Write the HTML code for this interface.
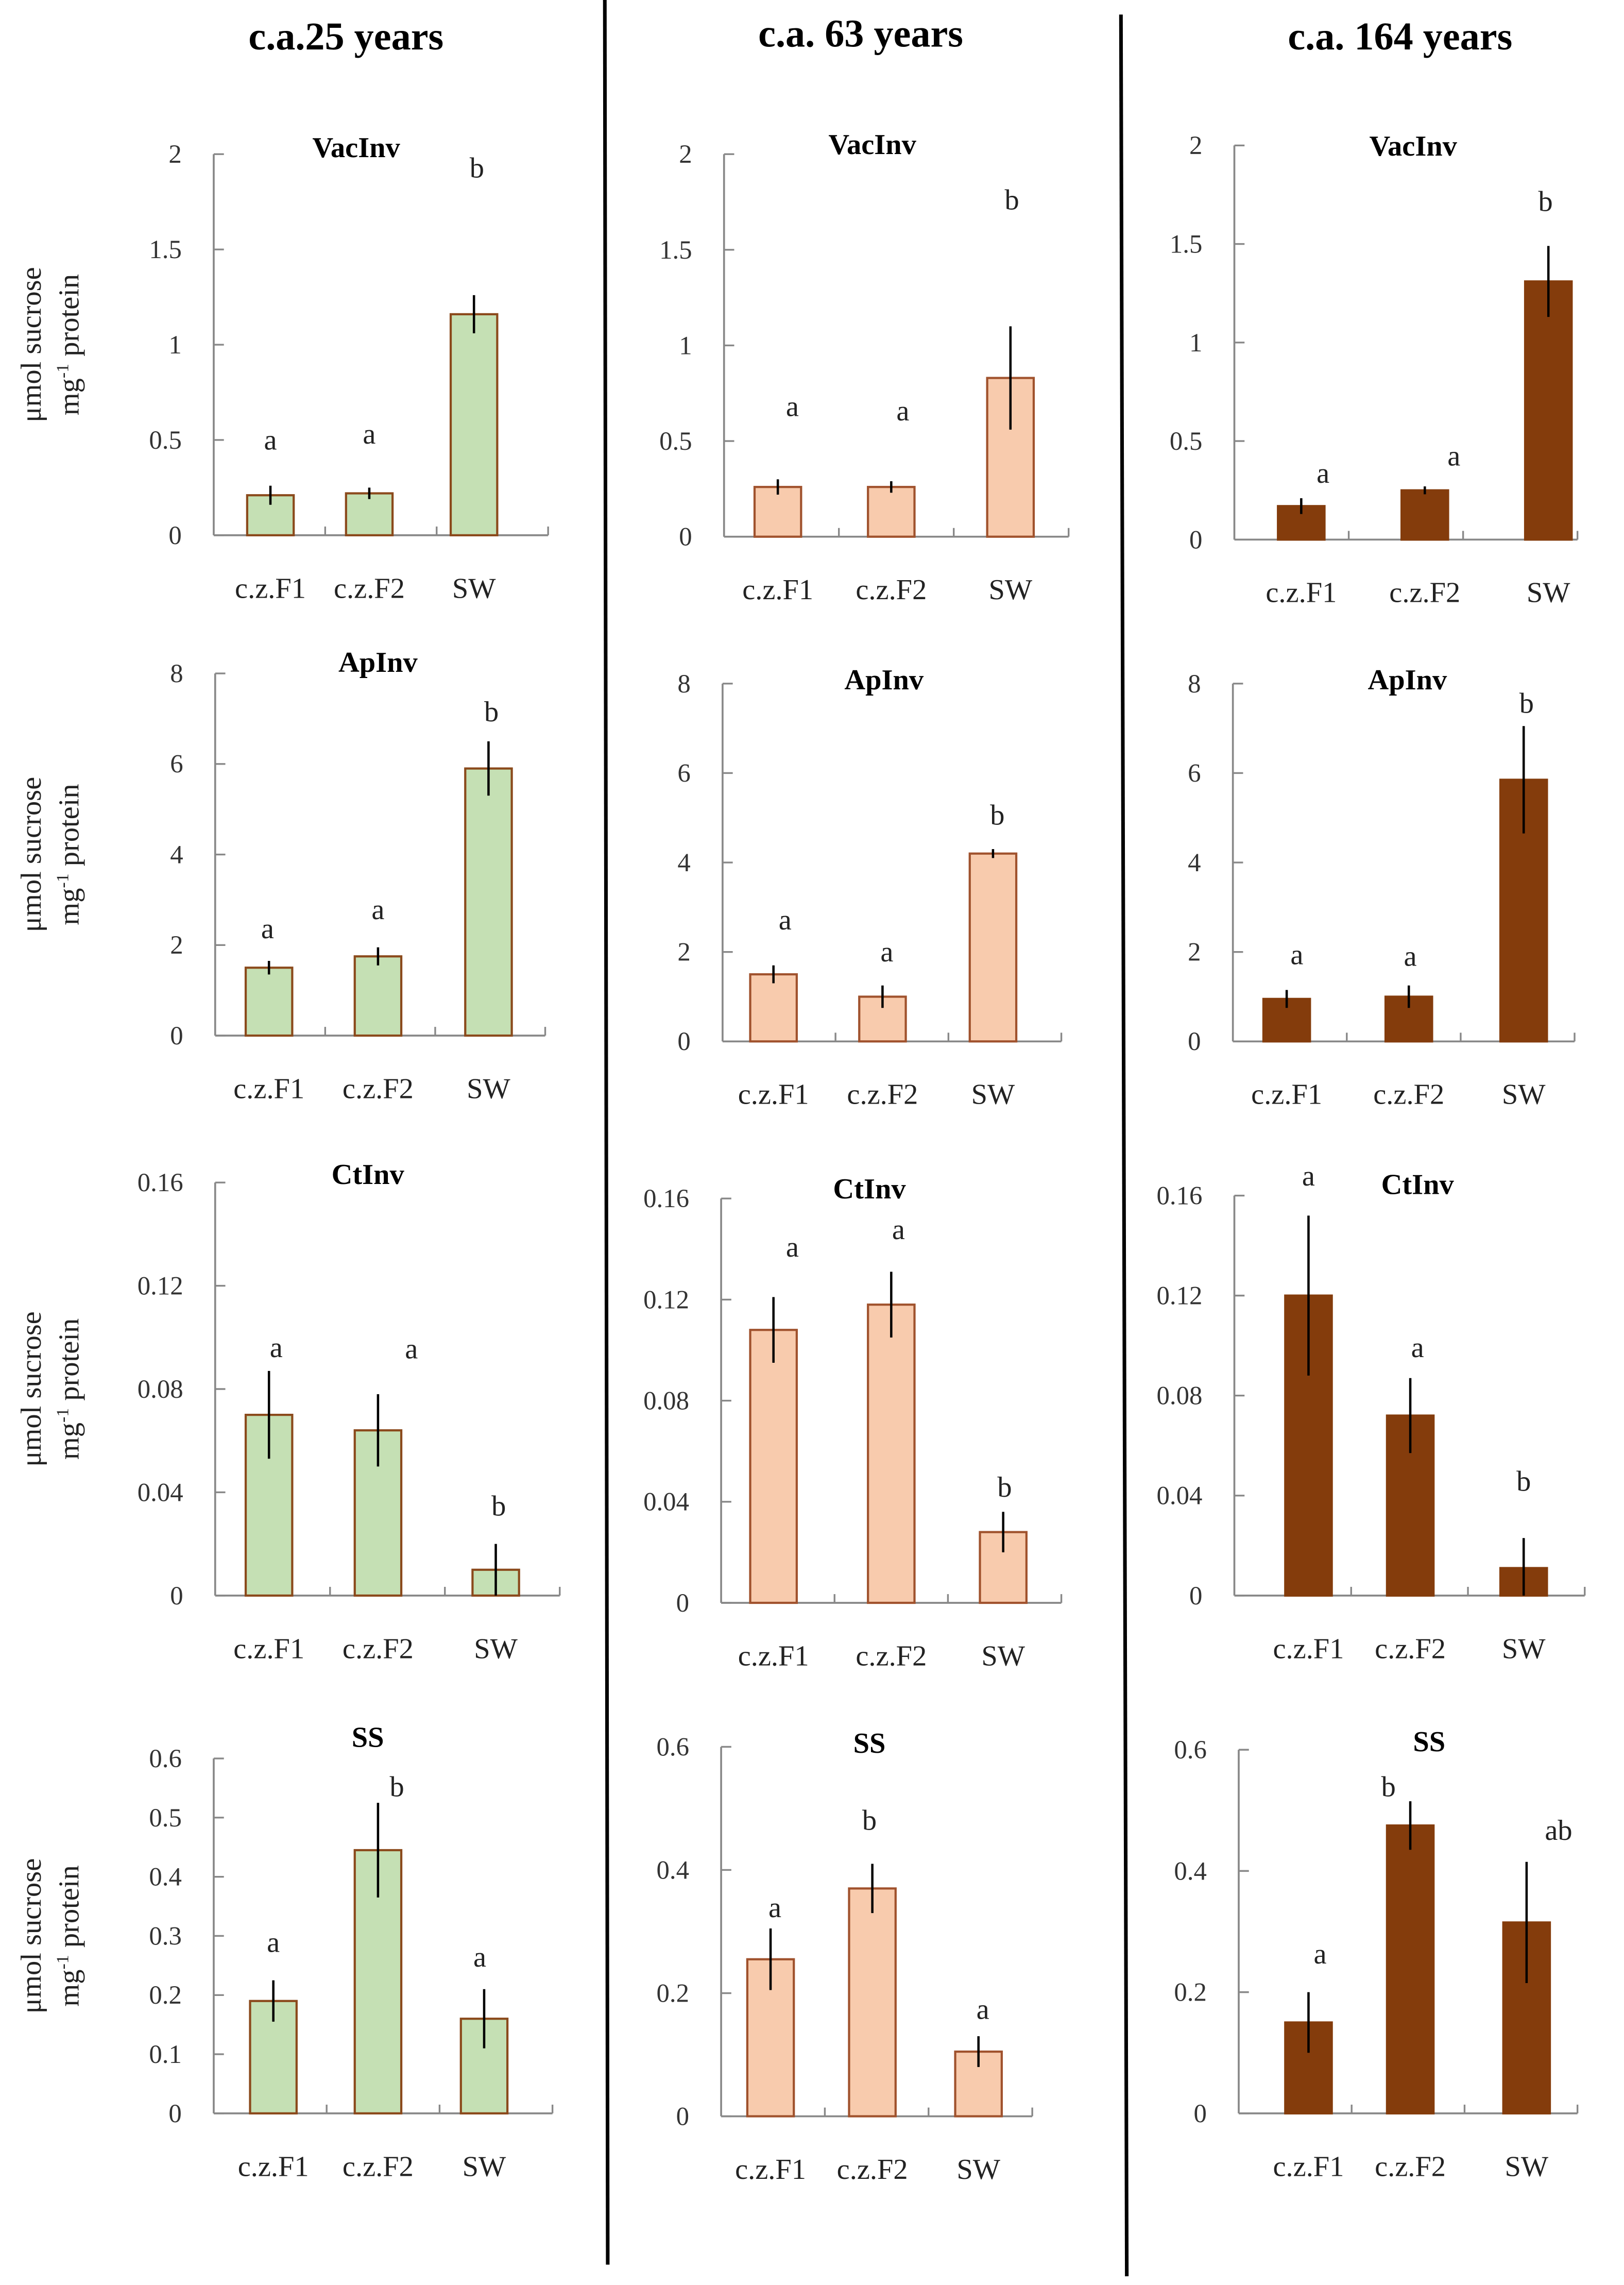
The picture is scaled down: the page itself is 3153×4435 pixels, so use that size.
<!DOCTYPE html>
<html><head><meta charset="utf-8"><style>
html,body{margin:0;padding:0;background:#fff;}
svg{display:block;}
text{font-family:"Liberation Serif",serif;}
</style></head>
<body>
<svg id="fig" width="3153" height="4435" viewBox="0 0 1117 1571" preserveAspectRatio="none" xmlns="http://www.w3.org/2000/svg">
<text x="238" y="34" font-size="27" font-weight="bold" text-anchor="middle">c.a.25 years</text>
<text x="592" y="32" font-size="27" font-weight="bold" text-anchor="middle">c.a. 63 years</text>
<text x="963" y="34" font-size="27" font-weight="bold" text-anchor="middle">c.a. 164 years</text>
<line x1="416" y1="0" x2="418" y2="1557" stroke="#000" stroke-width="2.5"/>
<line x1="771" y1="10" x2="775" y2="1565" stroke="#000" stroke-width="2.5"/>
<g id="charts"></g>
</svg>
<script>
// categories and enzyme titles
const categories = ["c.z.F1", "c.z.F2", "SW"];
const enzymes = ["VacInv", "ApInv", "CtInv", "SS"];
// axis maxima per enzyme row
const axisMax = [2, 8, 0.16, 0.6];
// values [row][category]
const values25 = [[0.21, 0.22, 1.16], [1.5, 1.75, 5.9], [0.07, 0.064, 0.01], [0.19, 0.445, 0.16]];
const errors25 = [[0.05, 0.03, 0.1], [0.15, 0.2, 0.6], [0.017, 0.014, 0.01], [0.035, 0.08, 0.05]];
const values63 = [[0.26, 0.26, 0.83], [1.5, 1.0, 4.2], [0.108, 0.118, 0.028], [0.255, 0.37, 0.105]];
const errors63 = [[0.04, 0.03, 0.27], [0.2, 0.25, 0.1], [0.013, 0.013, 0.008], [0.05, 0.04, 0.025]];
const values164 = [[0.17, 0.25, 1.31], [0.95, 1.0, 5.85], [0.12, 0.072, 0.011], [0.15, 0.475, 0.315]];
const errors164 = [[0.04, 0.02, 0.18], [0.2, 0.25, 1.2], [0.032, 0.015, 0.012], [0.05, 0.04, 0.1]];
const letters25 = [["a", "a", "b"], ["a", "a", "b"], ["a", "a", "b"], ["a", "b", "a"]];
const letters63 = [["a", "a", "b"], ["a", "a", "b"], ["a", "a", "b"], ["a", "b", "a"]];
const letters164 = [["a", "a", "b"], ["a", "a", "b"], ["a", "a", "b"], ["a", "b", "ab"]];
const tickLabels = [["0", "0.5", "1", "1.5", "2"], ["0", "2", "4", "6", "8"], ["0", "0.04", "0.08", "0.12", "0.16"], ["0", "0.1", "0.2", "0.3", "0.4", "0.5", "0.6"]];
const tickLabelsAlt = [["0", "0.5", "1", "1.5", "2"], ["0", "2", "4", "6", "8"], ["0", "0.04", "0.08", "0.12", "0.16"], ["0", "0.2", "0.4", "0.6"]];

// layout (not data)
const cols = [
  {key:"25", vals:values25, errs:errors25, lets:letters25, fill:"#c5e0b4", stroke:"#8b4a1c",
   frames:[[147,106,368,377],[148,463,712,375],[148,813,1097,385],[147,1209,1453,380]],
   cx:[[186,254,326],[185,260,336],[185,260,341],[188,260,333]],
   lx:[[186,254,328],[184,260,338],[190,283,343],[188,273,330]],
   ly:[[309,305,122],[645,632,496],[933,934,1042],[1342,1235,1352]],
   titleX:[245,260,253,253], titleY:[108,462,814,1201]},
  {key:"63", vals:values63, errs:errors63, lets:letters63, fill:"#f8cbad", stroke:"#a0522d",
   frames:[[498,106,369,735],[497,470,716,730],[496,824,1102,730],[496,1201,1455,710]],
   cx:[[535,613,695],[532,607,683],[532,613,690],[530,600,673]],
   lx:[[545,621,696],[540,610,686],[545,618,691],[533,598,676]],
   ly:[[286,289,144],[639,661,567],[864,852,1029],[1318,1258,1388]],
   titleX:[600,608,598,598], titleY:[106,474,824,1205]},
  {key:"164", vals:values164, errs:errors164, lets:letters164, fill:"#843c0c", stroke:"#843c0c",
   frames:[[849,100,371,1085],[848,470,716,1083],[849,822,1097,1090],[852,1203,1453,1085]],
   cx:[[895,980,1065],[885,969,1048],[900,970,1048],[900,970,1050]],
   lx:[[910,1000,1063],[892,970,1050],[900,975,1048],[908,955,1072]],
   ly:[[332,320,145],[663,664,490],[815,933,1025],[1350,1235,1265]],
   titleX:[972,968,975,983], titleY:[107,474,821,1204]}
];
const NS = "http://www.w3.org/2000/svg";
const root = document.getElementById("charts");
function mk(tag, attrs, parent){const e=document.createElementNS(NS,tag);for(const k in attrs)e.setAttribute(k,attrs[k]);(parent||root).appendChild(e);return e;}

cols.forEach((c,ci)=>{
  enzymes.forEach((enz,ri)=>{
    const [ax,yTop,y0,xr]=c.frames[ri];
    const g=mk("g",{});
    
    
    const yScale=v=>y0-(v/axisMax[ri])*(y0-yTop);
    const ticks=(ri===3&&ci>0)?tickLabelsAlt[3]:tickLabels[ri];
    const yax=mk("line",{x1:ax,y1:yTop,x2:ax,y2:y0,stroke:"#888","stroke-width":1.3},g);
    
    
    const xax=mk("line",{x1:ax,y1:y0,x2:xr,y2:y0,stroke:"#888","stroke-width":1.3},g);
    
    
    ticks.forEach((t,ti)=>{
      const v=axisMax[ri]*ti/(ticks.length-1);
      const y=yScale(v);
      mk("line",{x1:ax,y1:y,x2:ax+7,y2:y,stroke:"#888","stroke-width":1.2},g);
      const tl=mk("text",{x:ax-22,y:y+6,"font-size":18,"text-anchor":"end",fill:"#333"},g);
      tl.textContent=t;
      
      
    });
    const step=(xr-ax)/3;
    for(let k=1;k<=3;k++) mk("line",{x1:ax+step*k,y1:y0,x2:ax+step*k,y2:y0-6,stroke:"#888","stroke-width":1.2},g);
    const tt=mk("text",{x:c.titleX[ri],y:c.titleY[ri],"font-size":20,"font-weight":"bold","text-anchor":"middle"},g);
    tt.textContent=enz;
    
    
    categories.forEach((cat,k)=>{
      const cx=c.cx[ri][k];
      const v=c.vals[ri][k], e=c.errs[ri][k];
      const yb=yScale(v);
      const bar=mk("rect",{x:cx-16,y:yb,width:32,height:y0-yb,fill:c.fill,stroke:c.stroke,"stroke-width":1.5},g);
      
      
      const eb=mk("line",{x1:cx,y1:yScale(v+e),x2:cx,y2:yScale(Math.max(0,v-e)),stroke:"#000","stroke-width":1.6},g);
      
      
      const lt=mk("text",{x:c.lx[ri][k],y:c.ly[ri][k],"font-size":20,"text-anchor":"middle",fill:"#222"},g);
      lt.textContent=c.lets[ri][k];
      
      
      const xl=mk("text",{x:cx,y:y0+43,"font-size":20,"text-anchor":"middle",fill:"#222"},g);
      xl.textContent=cat;
      
      
    });
    if(ci===0){
      const cy=(yTop+y0)/2;
      const yl=mk("text",{transform:`translate(28,${cy}) rotate(-90)`,"font-size":20,"text-anchor":"middle",fill:"#222"},g);
      yl.textContent="μmol sucrose";
      
      
      const yl2=mk("text",{transform:`translate(54,${cy}) rotate(-90)`,"font-size":20,"text-anchor":"middle",fill:"#222"},g);
      yl2.innerHTML='mg<tspan dy="-7" font-size="12">-1</tspan><tspan dy="7"> protein</tspan>';
      
      
    }
  });
});
</script>
</body></html>
